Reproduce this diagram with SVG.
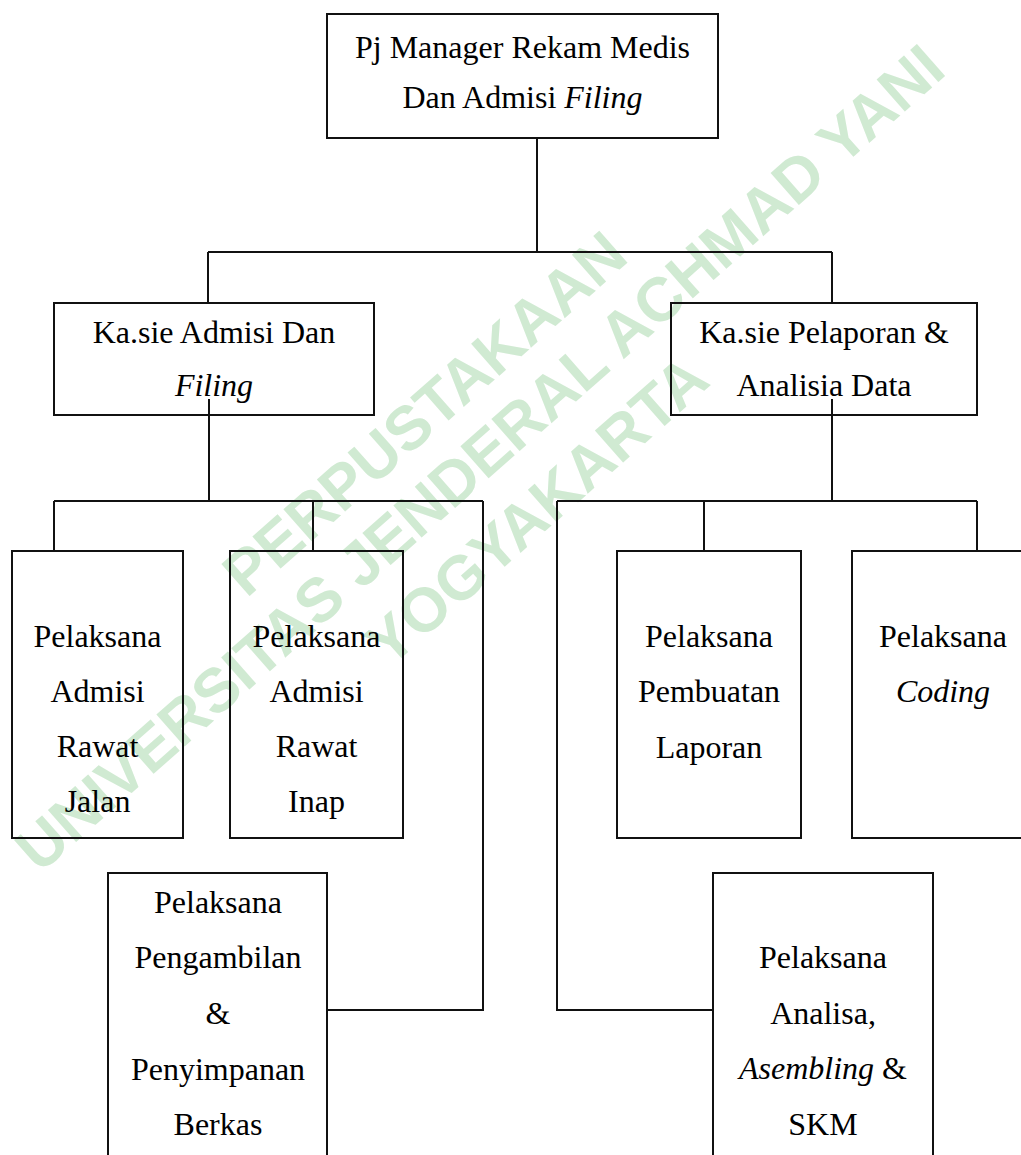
<svg xmlns="http://www.w3.org/2000/svg" width="1021" height="1155" viewBox="0 0 1021 1155">
<style>
.bg{fill:#ffffff}
.wm{font-family:"Liberation Sans",Arial,sans-serif;font-weight:bold;font-size:62px;fill:#d0ead2;text-anchor:middle}
.box{fill:none;stroke:#111111;stroke-width:2}
.ln{fill:none;stroke:#111111;stroke-width:2}
.t{font-family:"Liberation Serif","Times New Roman",serif;font-size:32px;fill:#000000;text-anchor:middle}
.i{font-style:italic}
</style>
<rect class="bg" x="0" y="0" width="1021" height="1155"/>
<g id="watermark" transform="rotate(-41.4)">
<text class="wm" x="45" y="612">PERPUSTAKAAN</text>
<text class="wm" x="57" y="682">UNIVERSITAS JENDERAL ACHMAD YANI</text>
<text class="wm" x="65" y="759">YOGYAKARTA</text>
</g>
<g id="connectors">
<path class="ln" d="M537 138 V252 M208 252 H832 M208 252 V303 M832 252 V303"/>
<path class="ln" d="M209 399 V501 M54 501 H483 M54 501 V551 M313 501 V551 M483 501 V1010 H327"/>
<path class="ln" d="M832 399 V501 M557 501 H977 M704 501 V551 M977 501 V551 M557 501 V1010 H713"/>
</g>
<g id="node-manager">
<rect class="box" x="327" y="14" width="391" height="124"/>
<text class="t" x="522.5" y="58">Pj Manager Rekam Medis</text>
<text class="t" x="522.5" y="108">Dan Admisi <tspan class="i">Filing</tspan></text>
</g>
<g id="node-kasie-admisi">
<rect class="box" x="54" y="303" width="320" height="112"/>
<text class="t" x="214" y="343">Ka.sie Admisi Dan</text>
<text class="t i" x="214" y="396">Filing</text>
</g>
<g id="node-kasie-pelaporan">
<rect class="box" x="671" y="303" width="306" height="112"/>
<text class="t" x="824" y="343">Ka.sie Pelaporan &amp;</text>
<text class="t" x="824" y="396">Analisia Data</text>
</g>
<g id="node-rawat-jalan">
<rect class="box" x="12" y="551" width="171" height="287"/>
<text class="t" x="97.5" y="647">Pelaksana</text>
<text class="t" x="97.5" y="702">Admisi</text>
<text class="t" x="97.5" y="757">Rawat</text>
<text class="t" x="97.5" y="812">Jalan</text>
</g>
<g id="node-rawat-inap">
<rect class="box" x="230" y="551" width="173" height="287"/>
<text class="t" x="316.5" y="647">Pelaksana</text>
<text class="t" x="316.5" y="702">Admisi</text>
<text class="t" x="316.5" y="757">Rawat</text>
<text class="t" x="316.5" y="812">Inap</text>
</g>
<g id="node-pembuatan-laporan">
<rect class="box" x="617" y="551" width="184" height="287"/>
<text class="t" x="709" y="647">Pelaksana</text>
<text class="t" x="709" y="702">Pembuatan</text>
<text class="t" x="709" y="758">Laporan</text>
</g>
<g id="node-coding">
<rect class="box" x="852" y="551" width="190" height="287"/>
<text class="t" x="943" y="647">Pelaksana</text>
<text class="t i" x="943" y="702">Coding</text>
</g>
<g id="node-pengambilan">
<rect class="box" x="108" y="873" width="219" height="300"/>
<text class="t" x="218" y="913">Pelaksana</text>
<text class="t" x="218" y="968">Pengambilan</text>
<text class="t" x="218" y="1024">&amp;</text>
<text class="t" x="218" y="1080">Penyimpanan</text>
<text class="t" x="218" y="1135">Berkas</text>
</g>
<g id="node-analisa">
<rect class="box" x="713" y="873" width="220" height="300"/>
<text class="t" x="823" y="968">Pelaksana</text>
<text class="t" x="823" y="1024">Analisa,</text>
<text class="t" x="823" y="1079"><tspan class="i">Asembling</tspan> &amp;</text>
<text class="t" x="823" y="1135">SKM</text>
</g>
</svg>
